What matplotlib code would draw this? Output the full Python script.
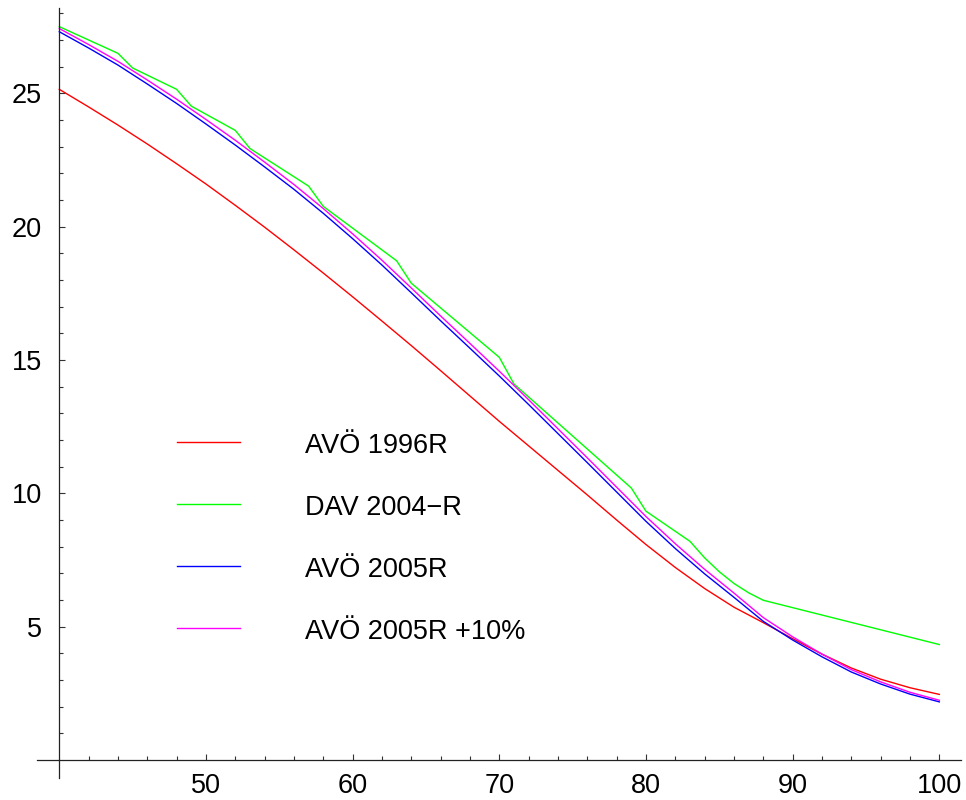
import numpy as np
import matplotlib
matplotlib.use('Agg')
import matplotlib.pyplot as plt
from matplotlib.ticker import FixedLocator

plt.rcParams['font.family'] = ['Liberation Sans', 'DejaVu Sans']

# --- data ---
ages = np.arange(40, 101, 2)

avoe_1996r = [25.15, 24.49, 23.81, 23.10, 22.36, 21.60, 20.80, 19.98, 19.13, 18.26,
              17.37, 16.46, 15.54, 14.60, 13.65, 12.70, 11.78, 10.86, 9.94, 9.00,
              8.08, 7.22, 6.43, 5.73, 5.15, 4.55, 3.97, 3.45, 3.03, 2.71, 2.46]

avoe_2005r = [27.31, 26.70, 26.06, 25.35, 24.62, 23.85, 23.06, 22.24, 21.40, 20.50,
              19.55, 18.56, 17.52, 16.47, 15.44, 14.40, 13.33, 12.24, 11.15, 10.05,
              8.95, 7.93, 6.98, 6.10, 5.20, 4.50, 3.87, 3.30, 2.85, 2.47, 2.18]

avoe_2005r_10 = [27.43, 26.83, 26.20, 25.50, 24.78, 24.02, 23.24, 22.42, 21.58, 20.68,
                 19.73, 18.74, 17.70, 16.65, 15.62, 14.58, 13.51, 12.42, 11.33, 10.23,
                 9.13, 8.11, 7.15, 6.26, 5.34, 4.62, 3.97, 3.39, 2.93, 2.54, 2.24]

# DAV table is drawn as straight segments between these ages
dav_ages = [40, 44, 45, 48, 49, 52, 53, 57, 58, 63, 64, 70, 71, 79, 80, 83, 84, 85, 86, 87, 88, 100]
dav_2004r = [27.50, 26.50, 25.95, 25.15, 24.52, 23.61, 22.93, 21.52, 20.76, 18.72, 17.88,
             15.10, 14.10, 10.20, 9.33, 8.20, 7.58, 7.06, 6.62, 6.27, 5.99, 4.33]

labels = ['AVÖ 1996R', 'DAV 2004\u2212R', 'AVÖ 2005R', 'AVÖ 2005R +10%']
colors = ['#ff0000', '#00ff00', '#0000ff', '#ff00ff']

x_major = [50, 60, 70, 80, 90, 100]
x_minor = [x for x in range(42, 101, 2) if x not in x_major]
y_major = [5, 10, 15, 20, 25]
y_minor = [y for y in range(1, 29) if y not in y_major]

# --- figure ---
fig = plt.figure(figsize=(9.66, 8), dpi=100)
fig.patch.set_facecolor('white')
ax = fig.add_axes([0, 0, 1, 1])
ax.set_facecolor('white')

ax.plot(ages, avoe_1996r, color=colors[0], lw=1.0)
ax.plot(dav_ages, dav_2004r, color=colors[1], lw=1.0)
ax.plot(ages, avoe_2005r, color=colors[2], lw=1.0)
ax.plot(ages, avoe_2005r_10, color=colors[3], lw=1.0)

ax.set_xlim(35.957, 101.82)
ax.set_ylim(-1.5, 28.5)

# Mathematica style crossing axes
for s in ['top', 'right']:
    ax.spines[s].set_visible(False)
ax.spines['left'].set_position(('data', 40))
ax.spines['bottom'].set_position(('data', 0))
ax.spines['left'].set_bounds(-0.67, 28.2)
ax.spines['bottom'].set_bounds(38.5, 101.5)
for s in ['left', 'bottom']:
    ax.spines[s].set_color('#222222')
    ax.spines[s].set_linewidth(0.9)

ax.xaxis.set_major_locator(FixedLocator(x_major))
ax.xaxis.set_minor_locator(FixedLocator(x_minor))
ax.yaxis.set_major_locator(FixedLocator(y_major))
ax.yaxis.set_minor_locator(FixedLocator(y_minor))
ax.set_xticklabels([str(v) for v in x_major])
ax.set_yticklabels([str(v) for v in y_major])

ax.tick_params(which='both', direction='in', color='#333333', width=0.8, labelsize=19.5)
ax.tick_params(which='major', length=4.3)
ax.tick_params(which='minor', length=2.9)
ax.tick_params(axis='x', which='major', pad=9.5)
ax.tick_params(axis='y', which='major', pad=12.7)

# hand-placed legend as in the original
line_x0, line_x1, text_x = 177.3 / 966, 240 / 966, 305 / 966
for i, (lab, col) in enumerate(zip(labels, colors)):
    y = 1 - (442 + 62.1 * i) / 800
    ax.plot([line_x0, line_x1], [y, y], color=col, lw=1.0, transform=ax.transAxes)
    ax.text(text_x, y - 10.7 / 800, lab, transform=ax.transAxes, fontsize=19.5,
            ha='left', va='baseline', color='black')

fig.savefig('out.png', dpi=100, facecolor='white')
